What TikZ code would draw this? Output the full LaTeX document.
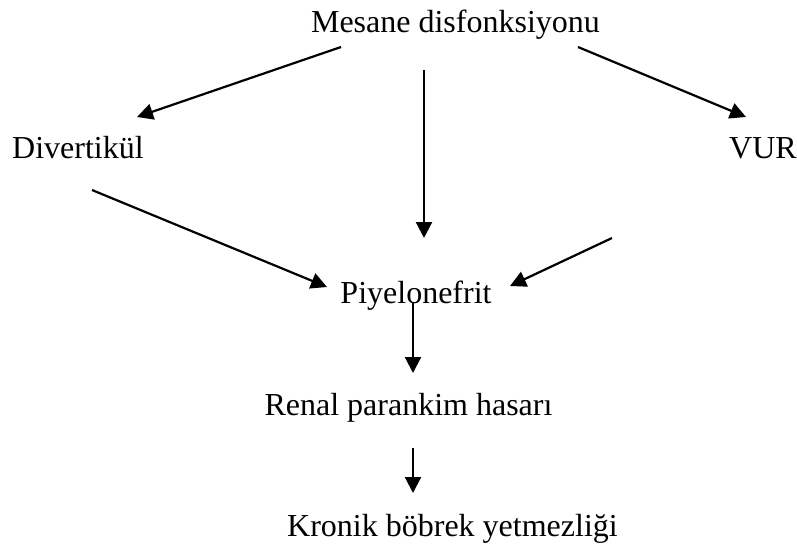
\documentclass[tikz,border=0pt]{standalone}
\usepackage{fontspec}
\setmainfont{Liberation Serif}
\usepackage{xcolor}
\usepackage{tikz}
\usetikzlibrary{arrows.meta,positioning,calc}
\definecolor{fcink}{RGB}{0,0,0}
\tikzset{
  lbl/.style={
    anchor=base, inner sep=0pt, text=fcink,
    font=\fontsize{32}{38}\selectfont
  },
  arr/.style={-{Triangle[length=16pt,width=16pt]}, draw=fcink, line width=2.2pt},
  every picture/.append style={line join=miter}
}
\begin{document}
\begin{tikzpicture}[x=1pt, y=-1pt]
  \useasboundingbox (0,0) rectangle (797,549);
  \node[lbl] (mes) at (455.5,32) {Mesane disfonksiyonu};
  \node[lbl] (div) at (78,158.5) {Divertikül};
  \node[lbl] (vur) at (763,158) {VUR};
  \node[lbl] (piy) at (416,303) {Piyelonefrit};
  \node[lbl] (ren) at (408.5,415) {Renal parankim hasarı};
  \node[lbl] (kro) at (452.5,536) {Kronik böbrek yetmezliği};
  % top row
  \draw[arr] ([shift={(-114.5,15)}]mes.base) -- ([shift={(59,-41.5)}]div.base);
  \draw[arr] ([shift={(-31.5,38)}]mes.base) -- ([shift={(8,-65)}]piy.base);
  \draw[arr] ([shift={(122.5,15)}]mes.base) -- ([shift={(-17,-41)}]vur.base);
  % into Piyelonefrit
  \draw[arr] ([shift={(14,31.5)}]div.base) -- ([shift={(-89,-16)}]piy.base);
  \draw[arr] ([shift={(-151,80)}]vur.base) -- ([shift={(94,-17)}]piy.base);
  % chain down
  \draw[arr] ([shift={(-3,0)}]piy.base) -- ([shift={(4.5,-42)}]ren.base);
  \draw[arr] ([shift={(4.5,33)}]ren.base) -- ([shift={(-39.5,-43)}]kro.base);
\end{tikzpicture}
\end{document}
